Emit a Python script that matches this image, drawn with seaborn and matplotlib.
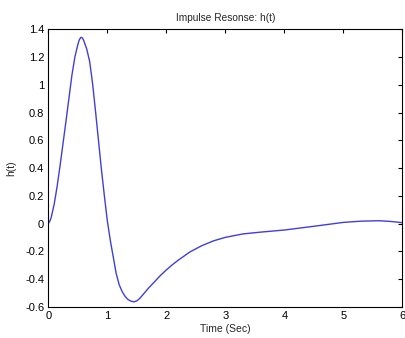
import numpy as np
import pandas as pd
import seaborn as sns
import matplotlib
matplotlib.use('Agg')
import matplotlib.pyplot as plt

# valores
t = [0, 0.025, 0.05, 0.1, 0.15, 0.2, 0.3, 0.4, 0.45, 0.5, 0.525, 0.55, 0.575, 0.6, 0.65,
     0.7, 0.75, 0.8, 0.85, 0.9, 0.95, 1.0, 1.05, 1.1, 1.15, 1.2, 1.25, 1.3, 1.35, 1.4,
     1.45, 1.5, 1.55, 1.6, 1.65, 1.7, 1.8, 1.9, 2.0, 2.1, 2.2, 2.4, 2.6, 2.8, 3.0,
     3.3, 3.6, 4.0, 4.5, 5.0, 5.3, 5.6, 5.8, 6.0]
h = [0, 0.015, 0.045, 0.14, 0.27, 0.42, 0.74, 1.07, 1.2, 1.29, 1.325, 1.342, 1.34, 1.32, 1.26,
     1.17, 1.01, 0.81, 0.6, 0.39, 0.2, 0.02, -0.12, -0.24, -0.36, -0.44, -0.49, -0.525, -0.548, -0.56,
     -0.565, -0.558, -0.54, -0.515, -0.49, -0.465, -0.42, -0.375, -0.335, -0.298, -0.265, -0.205, -0.16, -0.125, -0.10,
     -0.075, -0.062, -0.047, -0.02, 0.008, 0.017, 0.02, 0.015, 0.006]
xticks = [0, 1, 2, 3, 4, 5, 6]
yticks = [-0.6, -0.4, -0.2, 0, 0.2, 0.4, 0.6, 0.8, 1, 1.2, 1.4]
ytick_labels = ['-0.6', '-0.4', '-0.2', '0', '0.2', '0.4', '0.6', '0.8', '1', '1.2', '1.4']

df = pd.DataFrame({'t': t, 'h': h})

sns.set_style('white')
plt.rcParams['font.family'] = ['Liberation Sans', 'DejaVu Sans']

fig = plt.figure(figsize=(4.06, 3.38), dpi=100)
ax = fig.add_axes([0.119, 0.0926, 0.872, 0.8204])
sns.lineplot(data=df, x='t', y='h', ax=ax, color='#3f3fd8', linewidth=1.0)

ax.set_xlim(0, 6)
ax.set_ylim(-0.6, 1.4)
ax.set_xticks(xticks)
ax.set_xticklabels([str(v) for v in xticks])
ax.set_yticks(yticks)
ax.set_yticklabels(ytick_labels)
ax.tick_params(direction='in', length=3, width=0.8, top=True, right=True,
               labelsize=8, pad=3, colors='black')
for s in ax.spines.values():
    s.set_color('black')
    s.set_linewidth(0.8)

ax.set_title('Impulse Resonse: h(t)', fontsize=7.3, pad=6)
ax.set_xlabel('Time (Sec)', fontsize=7.5, labelpad=2)
ax.set_ylabel('h(t)', fontsize=7.5, labelpad=6)

fig.savefig('out.png', dpi=100)
